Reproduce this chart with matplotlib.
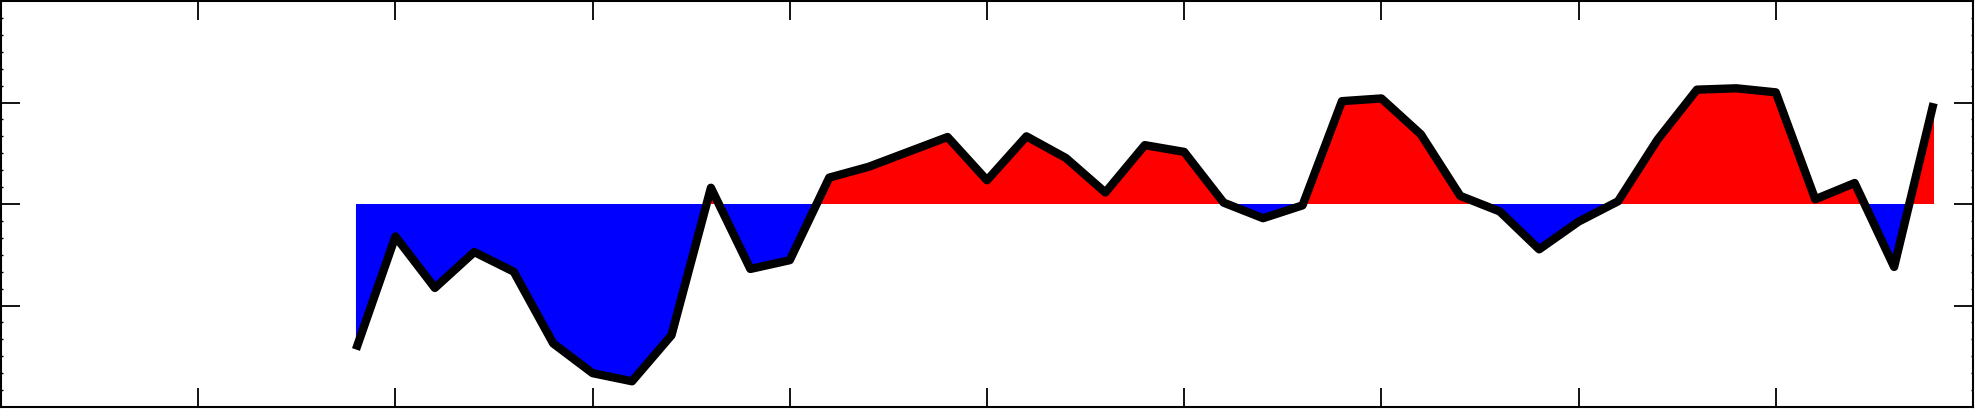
import numpy as np
import matplotlib.pyplot as plt
from matplotlib.ticker import MultipleLocator

# anos e anomalia
anos = np.arange(1959, 2000)
anomalia = np.array([
    -2.15, -0.48, -1.24, -0.71, -1.00, -2.06, -2.50, -2.62, -1.94, 0.24,
    -0.96, -0.83, 0.39, 0.55, 0.77, 0.99, 0.35, 1.00, 0.68, 0.17,
    0.87, 0.77, 0.02, -0.21, -0.02, 1.52, 1.56, 1.03, 0.12, -0.11,
    -0.67, -0.26, 0.04, 0.95, 1.69, 1.71, 1.65, 0.07, 0.31, -0.93,
    1.49,
])

W, H = 1976, 409
fig = plt.figure(figsize=(W / 100, H / 100), dpi=100)
ax = fig.add_axes([1 / W, 2 / H, 1972 / W, 406 / H])

# áreas positivas em vermelho e negativas em azul
ax.fill_between(anos, 0, anomalia, where=anomalia >= 0, interpolate=True,
                color='red', linewidth=0)
ax.fill_between(anos, 0, anomalia, where=anomalia <= 0, interpolate=True,
                color='blue', linewidth=0)
ax.plot(anos, anomalia, color='black', linewidth=6,
        solid_joinstyle='round', solid_capstyle='butt')

ax.set_xlim(1950, 2000)
ax.set_ylim(-3, 3)
ax.xaxis.set_major_locator(MultipleLocator(5))
ax.yaxis.set_major_locator(MultipleLocator(1.5))
ax.yaxis.set_minor_locator(MultipleLocator(0.25))

ax.tick_params(which='major', direction='in', length=14, width=1.3,
               top=True, right=True, labelbottom=False, labelleft=False)
ax.tick_params(axis='y', which='minor', direction='in', length=1.2, width=1,
               left=True, right=True)
ax.tick_params(axis='x', which='minor', bottom=False, top=False)

for s in ax.spines.values():
    s.set_linewidth(1.5)

fig.savefig('out.png', dpi=100)
